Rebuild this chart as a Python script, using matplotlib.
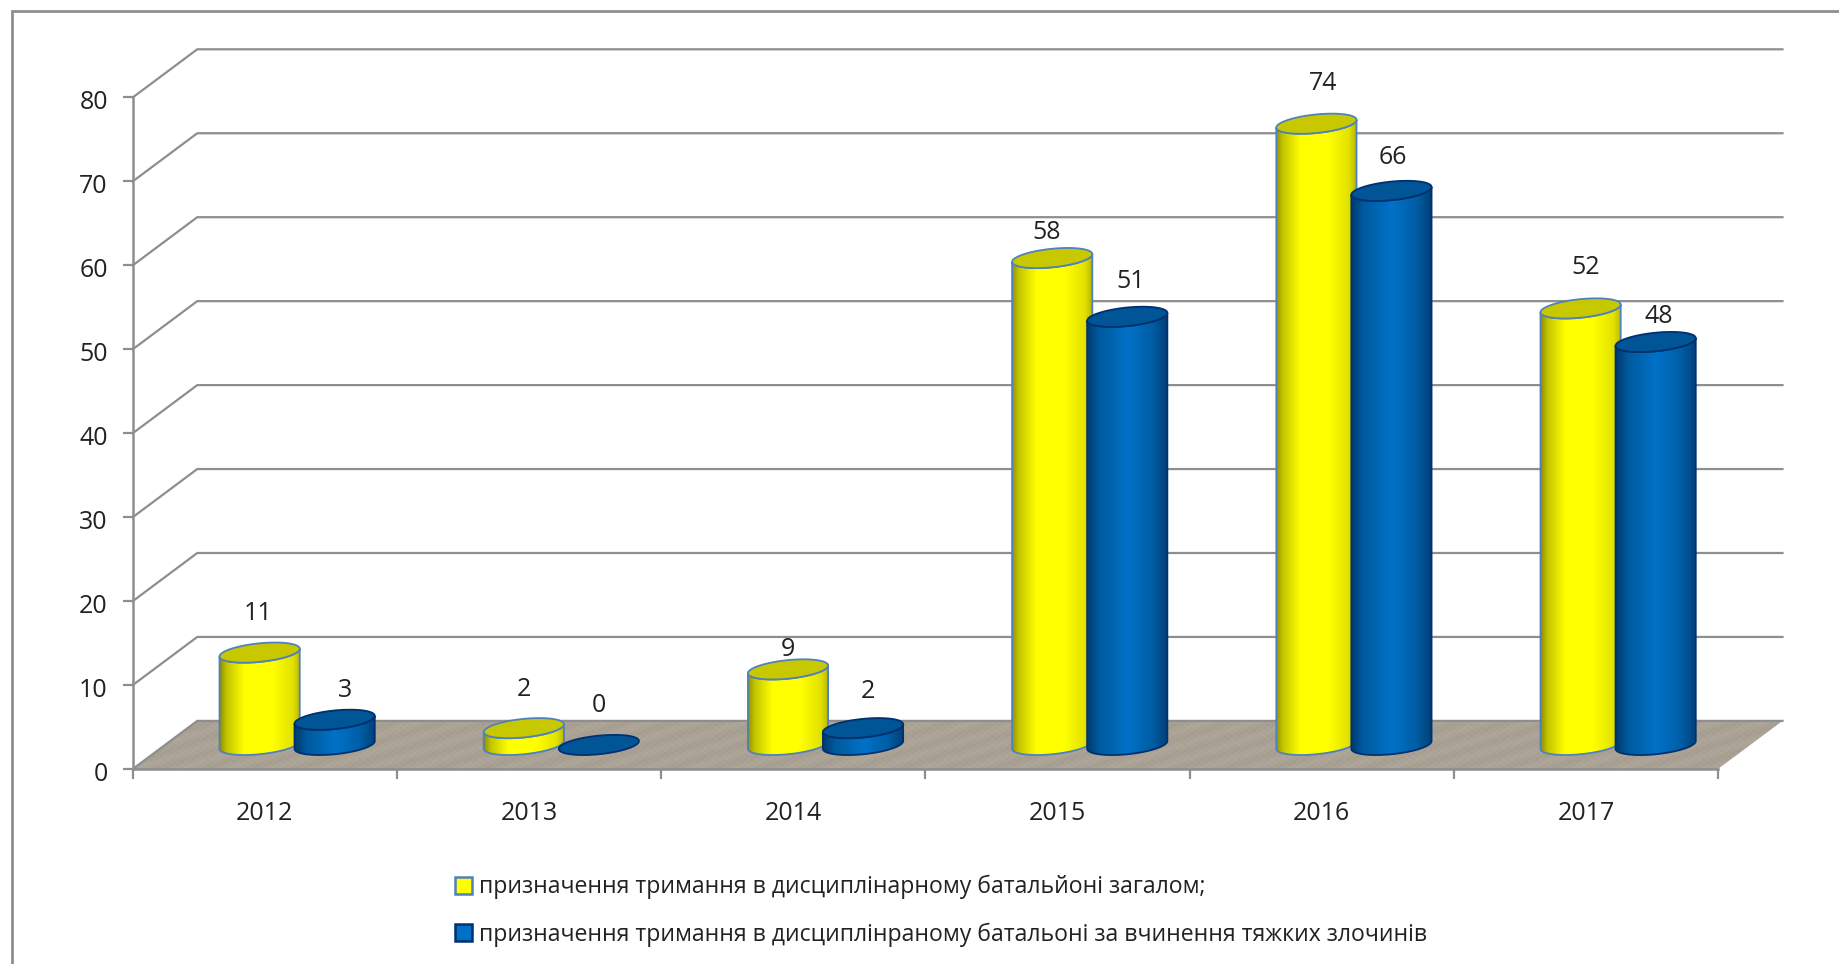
#!/usr/bin/python
import numpy as np
import matplotlib
matplotlib.use("Agg")
import matplotlib.pyplot as plt
from matplotlib.colors import to_rgb
from matplotlib.lines import Line2D
from matplotlib.patches import Patch, Polygon
from matplotlib.transforms import ScaledTranslation

plt.rcParams['font.family'] = ['Open Sans', 'DejaVu Sans']

years = ['2012', '2013', '2014', '2015', '2016', '2017']
total = [11, 2, 9, 58, 74, 52]
grave = [3, 0, 2, 51, 66, 48]
y_ticks = [0, 10, 20, 30, 40, 50, 60, 70, 80]
legend_labels = ['призначення тримання в дисциплінарному батальйоні загалом;',
                 'призначення тримання в дисциплінраному батальоні за вчинення тяжких злочинів']

# how far each value label sits from its cylinder (x in categories, y in values)
total_label_off = [(-0.004, 4.65), (0.0, 4.65), (0.0, 2.35), (-0.022, 3.05), (0.027, 4.75), (0.018, 4.85)]
grave_label_off = [(0.04, 3.45), (0.0, 4.65), (0.018, 4.35), (0.013, 4.15), (0.004, 3.95), (0.013, 3.05)]

W, H = 1840, 964
DEPTH_X, DEPTH_Y = 0.244, 5.73    # shift of the back wall from the front plane
BAR_OFF = 0.142
RX, RB, RC = 0.140, 0.0586, 1.2   # top ellipse: x radius, x skew, y radius
GRAY = '#8e8e8e'

YELLOW_STOPS = [(0, '#8f8f00'), (.08, '#c4c400'), (.3, '#ffff00'), (.65, '#ffff00'), (.9, '#e2e200'), (1, '#b4b400')]
BLUE_STOPS = [(0, '#003a70'), (.15, '#005a9e'), (.5, '#0072c8'), (.8, '#005ea6'), (1, '#003f78')]


def ellipse_xy(cx, cy, t):
    return cx + RX * np.cos(t) + RB * np.sin(t), cy + RC * np.sin(t)


def gradient(stops):
    pos = [s[0] for s in stops]
    rgb = np.array([to_rgb(s[1]) for s in stops])
    xs = np.linspace(0, 1, 256)
    return np.stack([np.interp(xs, pos, rgb[:, i]) for i in range(3)], axis=1)[None, :, :]


def cylinder(ax, cx, value, stops, top_color, edge, z):
    base = DEPTH_Y / 2
    top = base + value
    t0 = np.arctan2(RB, RX)
    half_x = np.hypot(RX, RB)
    if value > 0:
        t = np.linspace(t0 + np.pi, t0 + 2 * np.pi, 60)
        xb, yb = ellipse_xy(cx, base, t)
        xt, yt = ellipse_xy(cx, top, t[::-1])
        verts = np.column_stack([np.r_[xb, xt], np.r_[yb, yt]])
        body = Polygon(verts, closed=True, facecolor='none', edgecolor=edge, linewidth=1.3,
                       transform=ax.transData, zorder=z + 0.2, clip_on=False)
        ax.add_patch(body)
        im = ax.imshow(gradient(stops), extent=[cx - half_x, cx + half_x, base - RC, top + RC],
                       aspect='auto', zorder=z + 0.1, interpolation='bilinear')
        im.set_clip_path(Polygon(verts, closed=True, transform=ax.transData))
    t = np.linspace(0, 2 * np.pi, 120)
    xe, ye = ellipse_xy(cx, top, t)
    ax.fill(xe, ye, facecolor=top_color, edgecolor=edge, linewidth=1.3, zorder=z + 0.3, clip_on=False)


fig = plt.figure(figsize=(W / 100, H / 100), dpi=100, facecolor='white')
ax = fig.add_axes([132.8 / W, (H - 769) / H, 6 * 264.2 / W, 671.6 / H])

# outer chart frame, only the top and left edges fall inside the page
fig.add_artist(Line2D([12 / W, 12 / W, 1.0], [0.0, (H - 11) / H, (H - 11) / H], transform=fig.transFigure,
                      color=GRAY, linewidth=2, solid_joinstyle='miter'))

# floor with a fine woven texture
floor = Polygon([(0, 0), (DEPTH_X, DEPTH_Y), (6 + DEPTH_X, DEPTH_Y), (6, 0)], closed=True,
                transform=ax.transData)
yy, xx = np.mgrid[0:50, 0:1720]
weave = 0.5 * np.sin(xx * 0.83) * np.sin(yy * 1.07) + 0.5 * np.sin(xx * 0.13 + yy * 0.41)
tex = np.array(to_rgb('#aaa295'))[None, None, :] + 0.025 * weave[:, :, None]
floor_im = ax.imshow(np.clip(tex, 0, 1), extent=[0, 6 + DEPTH_X, 0, DEPTH_Y], aspect='auto',
                     zorder=1, interpolation='bilinear')
floor_im.set_clip_path(floor)
floor_im.set_clip_box(fig.bbox)

# back wall grid lines with their oblique return to the value axis
for v in y_ticks:
    ax.plot([0, DEPTH_X, 6 + DEPTH_X], [v, v + DEPTH_Y, v + DEPTH_Y], color=GRAY, linewidth=1.6,
            zorder=2, clip_on=False, solid_joinstyle='miter')

for i in range(len(years)):
    center = i + 0.5 + DEPTH_X / 2
    cylinder(ax, center - BAR_OFF, total[i], YELLOW_STOPS, '#c8c800', '#4f81bd', 3 + i)
    cylinder(ax, center + BAR_OFF, grave[i], BLUE_STOPS, '#005596', '#00306e', 3.5 + i)
    for x, v, off in ((center - BAR_OFF, total[i], total_label_off[i]),
                      (center + BAR_OFF, grave[i], grave_label_off[i])):
        ax.text(x + off[0], DEPTH_Y / 2 + v + off[1], str(v), ha='center', va='center',
                fontsize=18, color='#222222', zorder=20)

ax.set_xlim(0, 6)
ax.set_ylim(0, 80)
ax.patch.set_visible(False)
for side in ('top', 'right'):
    ax.spines[side].set_visible(False)
for side in ('left', 'bottom'):
    ax.spines[side].set_color(GRAY)
    ax.spines[side].set_linewidth(1.8)
    ax.spines[side].set_zorder(2.5)

ax.set_yticks(y_ticks)
ax.tick_params(axis='y', length=7, width=1.6, color=GRAY, pad=11, labelsize=18, labelcolor='#222222')
# value axis labels sit a touch below their ticks
for lab in ax.get_yticklabels():
    lab.set_transform(lab.get_transform() + ScaledTranslation(0, -1.5 / 72, fig.dpi_scale_trans))
ax.set_xticks(range(7))
ax.set_xticklabels([])
ax.set_xticks(np.arange(6) + 0.5, years, minor=True)
ax.tick_params(axis='x', which='major', length=7, width=1.6, color=GRAY)
ax.tick_params(axis='x', which='minor', length=0, pad=23, labelsize=18, labelcolor='#222222')

handles = [Patch(facecolor='#ffff00', edgecolor='#4f81bd', linewidth=1.8),
           Patch(facecolor='#0070c4', edgecolor='#00306e', linewidth=1.8)]
fig.legend(handles, legend_labels, loc='upper left', bbox_to_anchor=(455 / W, (H - 875) / H),
           frameon=False, fontsize=16.6, handlelength=0.72, handleheight=0.72, handletextpad=0.3,
           labelspacing=1.0, borderpad=0, borderaxespad=0, labelcolor='#222222')

fig.savefig('out.png', dpi=100, facecolor='white')
